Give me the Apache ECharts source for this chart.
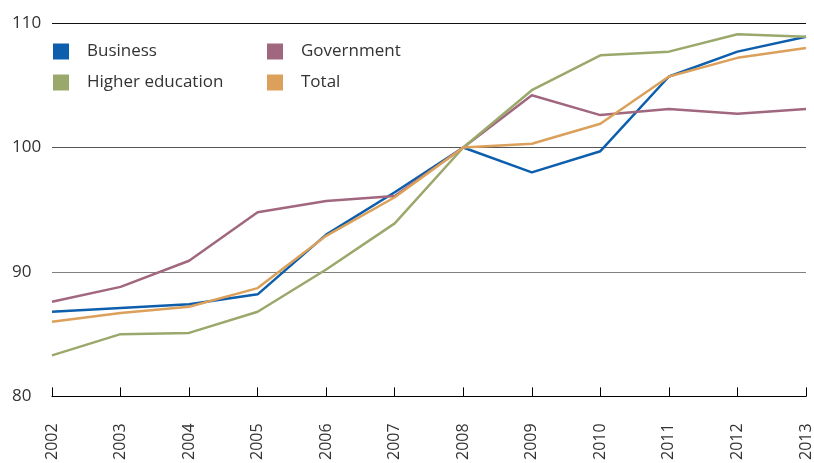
<!DOCTYPE html>
<html><head><meta charset="utf-8">
<script src="https://cdn.jsdelivr.net/npm/echarts@6/dist/echarts.min.js"></script>
<style>html,body{margin:0;padding:0;background:#fff}#c{width:814px;height:463px}</style>
</head><body><div id="c"></div>
<script>
const years = ['2002','2003','2004','2005','2006','2007','2008','2009','2010','2011','2012','2013'];
const business = [86.8, 87.1, 87.4, 88.2, 93.0, 96.4, 100, 98.0, 99.7, 105.7, 107.7, 108.9];
const government = [87.6, 88.8, 90.9, 94.8, 95.7, 96.1, 100, 104.2, 102.6, 103.1, 102.7, 103.1];
const higherEducation = [83.3, 85.0, 85.1, 86.8, 90.2, 93.9, 100, 104.6, 107.4, 107.7, 109.1, 108.9];
const total = [86.0, 86.7, 87.2, 88.7, 92.9, 96.0, 100, 100.3, 101.9, 105.7, 107.2, 108.0];
const yTicks = [80, 90, 100, 110];

const font = "'Open Sans', sans-serif";
const mk = (name, data, color) => ({
  name, type: 'line', data, symbol: 'none', smooth: false,
  lineStyle: { color, width: 2.5 }, itemStyle: { color }
});
const legendBase = {
  orient: 'vertical', itemWidth: 16, itemHeight: 16, itemGap: 14,
  icon: 'rect',
  textStyle: { fontFamily: font, fontSize: 17, color: '#333', padding: [0, 0, 0, 13] }
};
const chart = echarts.init(document.getElementById('c'));
chart.setOption({
  animation: false,
  backgroundColor: '#fff',
  grid: { left: 52, right: 6, top: 23, bottom: 65 },
  legend: [
    Object.assign({}, legendBase, { left: 48, top: 38, data: ['Business', 'Higher education'] }),
    Object.assign({}, legendBase, { left: 262, top: 38, data: ['Government', 'Total'] })
  ],
  xAxis: {
    type: 'category', data: years, boundaryGap: false,
    axisLine: { lineStyle: { color: '#000', width: 1.2 } },
    axisTick: { inside: true, length: 9, lineStyle: { color: '#000' }, alignWithLabel: true },
    axisLabel: { rotate: 90, margin: 27, fontFamily: font, fontSize: 16, color: '#333' },
    splitLine: { show: false }
  },
  yAxis: {
    type: 'value', min: 80, max: 110, interval: 10,
    axisLine: { show: false }, axisTick: { show: false },
    axisLabel: { align: 'left', margin: 40, fontFamily: font, fontSize: 17, color: '#333',
      formatter: v => yTicks.includes(v) ? String(v) : '' },
    splitLine: { lineStyle: { color: ['#000', '#808080', '#555', '#111'], width: 1.2 } }
  },
  series: [
    mk('Business', business, '#0d5fad'),
    mk('Government', government, '#a1677e'),
    mk('Higher education', higherEducation, '#9aa86b'),
    mk('Total', total, '#dba05a')
  ]
});
</script></body></html>
